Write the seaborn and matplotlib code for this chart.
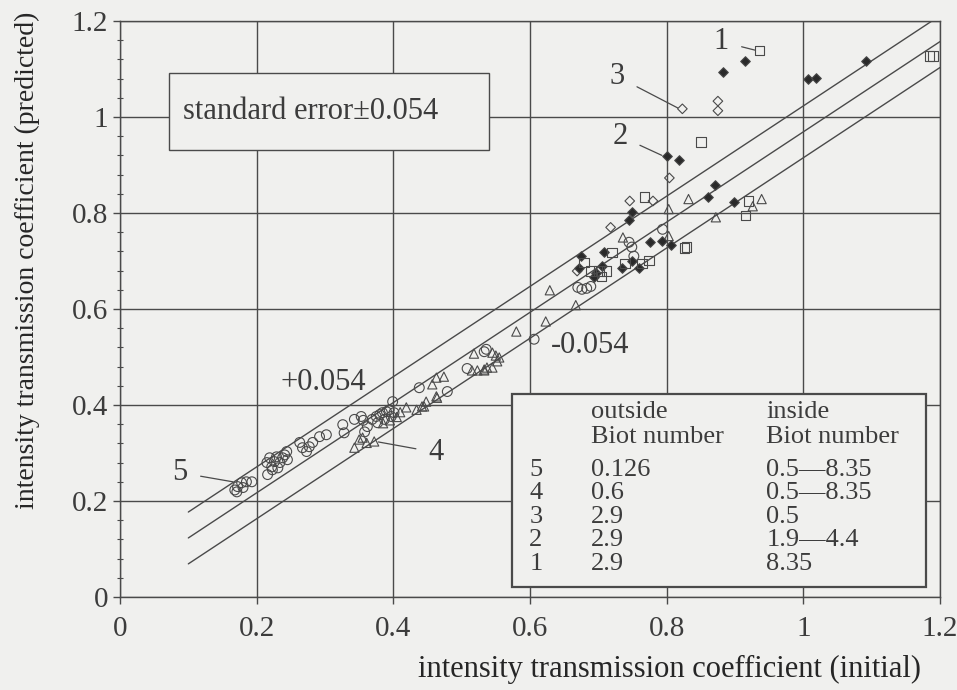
import numpy as np
import pandas as pd
import matplotlib.pyplot as plt
import seaborn as sns
from matplotlib.patches import Rectangle

# series 5: open circles (outside Bi 0.126)
x5 = [0.168, 0.172, 0.178, 0.180, 0.185, 0.193, 0.171,
      0.215, 0.219, 0.222, 0.226, 0.229, 0.234, 0.238, 0.244, 0.241, 0.216, 0.223, 0.231, 0.245,
      0.263, 0.267, 0.273, 0.277, 0.282, 0.292, 0.302,
      0.326, 0.328, 0.343, 0.353, 0.356,
      0.369, 0.375, 0.380, 0.384, 0.390, 0.394, 0.399, 0.401, 0.397, 0.387, 0.377, 0.362, 0.358,
      0.438, 0.479, 0.508, 0.533, 0.536, 0.606,
      0.670, 0.676, 0.683, 0.689, 0.745, 0.749, 0.752, 0.794]
y5 = [0.223, 0.230, 0.238, 0.228, 0.240, 0.240, 0.219,
      0.280, 0.290, 0.271, 0.282, 0.292, 0.280, 0.290, 0.303, 0.296, 0.255, 0.265, 0.269, 0.286,
      0.322, 0.311, 0.303, 0.313, 0.322, 0.334, 0.338,
      0.359, 0.342, 0.370, 0.376, 0.368,
      0.370, 0.376, 0.380, 0.384, 0.386, 0.390, 0.407, 0.384, 0.376, 0.370, 0.363, 0.355, 0.344,
      0.436, 0.428, 0.476, 0.511, 0.516, 0.537,
      0.645, 0.641, 0.643, 0.647, 0.739, 0.729, 0.710, 0.766]

# series 4: open triangles
x4 = [0.343, 0.350, 0.355, 0.372, 0.361, 0.385, 0.395, 0.405, 0.410,
      0.419, 0.434, 0.445, 0.448, 0.463, 0.463, 0.474, 0.457, 0.464, 0.442,
      0.518, 0.545, 0.550, 0.552, 0.515, 0.523, 0.533, 0.537, 0.555, 0.533, 0.545,
      0.580, 0.623, 0.667, 0.629, 0.736, 0.803, 0.803, 0.832, 0.872, 0.926, 0.939]
y4 = [0.311, 0.328, 0.332, 0.324, 0.321, 0.362, 0.368, 0.375, 0.385,
      0.395, 0.390, 0.397, 0.407, 0.418, 0.457, 0.459, 0.443, 0.415, 0.397,
      0.507, 0.509, 0.503, 0.491, 0.472, 0.472, 0.472, 0.478, 0.499, 0.474, 0.478,
      0.553, 0.574, 0.608, 0.639, 0.749, 0.752, 0.808, 0.829, 0.791, 0.814, 0.829]

# series 3: open diamonds
x3 = [0.823, 0.875, 0.875, 0.804, 0.746, 0.780, 0.718, 0.669]
y3 = [1.017, 1.033, 1.013, 0.873, 0.825, 0.825, 0.770, 0.679]

# series 2: filled diamonds
x2 = [0.800, 0.818, 0.882, 0.915, 1.007, 1.019, 1.092, 0.871, 0.860, 0.899, 0.750, 0.745,
      0.709, 0.674, 0.672, 0.696, 0.693, 0.705, 0.734, 0.759, 0.775, 0.793, 0.807, 0.749]
y2 = [0.918, 0.910, 1.094, 1.117, 1.079, 1.081, 1.117, 0.858, 0.833, 0.822, 0.801, 0.785,
      0.718, 0.710, 0.685, 0.676, 0.666, 0.689, 0.685, 0.685, 0.739, 0.741, 0.733, 0.699]

# series 1: open squares
x1 = [0.936, 1.190, 1.185, 0.850, 0.768, 0.920, 0.915, 0.829, 0.826, 0.720, 0.679, 0.689,
      0.701, 0.712, 0.739, 0.764, 0.774, 0.705]
y1 = [1.138, 1.127, 1.127, 0.948, 0.833, 0.825, 0.795, 0.729, 0.727, 0.718, 0.697, 0.679,
      0.679, 0.679, 0.695, 0.695, 0.701, 0.668]

# regression line and +/- standard error
fit_x = [0.1, 1.2]
fit_y = [0.123, 1.157]
std_err = 0.054

# table
series_ids = ['5', '4', '3', '2', '1']
bi_outside = ['0.126', '0.6', '2.9', '2.9', '2.9']
bi_inside = ['0.5\u20148.35', '0.5\u20148.35', '0.5', '1.9\u20144.4', '8.35']

# callout labels: (label, text pos, point pos)
callouts = [('1', (0.880, 1.157), (0.930, 1.139)),
            ('3', (0.728, 1.084), (0.816, 1.019)),
            ('2', (0.732, 0.960), (0.793, 0.920)),
            ('5', (0.088, 0.259), (0.165, 0.240)),
            ('4', (0.463, 0.301), (0.378, 0.323))]

ink = '#4a4a4a'
paper = '#f0f0ee'

sns.set_theme(style='white')
plt.rcParams['font.family'] = ['Liberation Serif', 'DejaVu Serif']
plt.rcParams['text.color'] = '#3c3c3c'

fig = plt.figure(figsize=(9.57, 6.9), dpi=100, facecolor=paper)
ax = fig.add_axes([0.1254, 0.1348, 0.8568, 0.8348])
ax.set_facecolor(paper)

# reference lines
line_df = pd.DataFrame({'x': fit_x, 'y': fit_y})
for off in (std_err, 0.0, -std_err):
    sns.lineplot(x=line_df['x'], y=line_df['y'] + off, ax=ax, color=ink, lw=1.0, zorder=2)

# points
series = [(x5, y5, 'o', 50, True), (x4, y4, '^', 44, True), (x3, y3, 'D', 24, True),
          (x2, y2, 'D', 24, False), (x1, y1, 's', 46, True)]
for xs, ys, mk, sz, hollow in series:
    d = pd.DataFrame({'x': xs, 'y': ys})
    sns.scatterplot(data=d, x='x', y='y', marker=mk, s=sz, ax=ax, color=ink,
                    edgecolor=ink, linewidth=0.8, zorder=4)
    coll = ax.collections[-1]
    coll.set_edgecolor(ink)
    coll.set_facecolor('none' if hollow else '#2a2a2a')

ax.set_xlim(0, 1.2)
ax.set_ylim(0, 1.2)
ticks = np.round(np.arange(0, 1.21, 0.2), 1)
tick_labels = ['0', '0.2', '0.4', '0.6', '0.8', '1', '1.2']
ax.set_xticks(ticks)
ax.set_xticklabels(tick_labels)
ax.set_yticks(ticks)
ax.set_yticklabels(tick_labels)
ax.set_yticks(np.arange(0, 1.2, 0.04), minor=True)
ax.tick_params(axis='both', which='major', labelsize=21, colors=ink, labelcolor='#3c3c3c',
               length=5, width=1, direction='out', bottom=True, left=True)
ax.tick_params(axis='x', pad=9)
ax.tick_params(axis='y', which='minor', length=5, width=0.8, direction='inout', left=True, color=ink)
ax.grid(True, which='major', color=ink, lw=1.0)
for sp in ax.spines.values():
    sp.set_color(ink)
    sp.set_linewidth(1.0)

ax.set_xlabel('intensity transmission coefficient (initial)', fontsize=22)
ax.xaxis.set_label_coords(0.67, -0.10)
ax.set_ylabel('intensity transmission coefficient (predicted)', fontsize=20)
ax.yaxis.set_label_coords(-0.098, 0.585)

# standard error box
ax.add_patch(Rectangle((0.0715, 0.931), 0.4685, 0.161, fc=paper, ec=ink, lw=1.0, zorder=3))
ax.text(0.092, 1.012, 'standard error\u00b10.054', fontsize=22, va='center', zorder=5)
ax.text(0.298, 0.447, '+0.054', fontsize=22, ha='center', va='center', zorder=5)
ax.text(0.688, 0.524, '-0.054', fontsize=22, ha='center', va='center', zorder=5)

for lab, tp, pp in callouts:
    ax.annotate(lab, xy=pp, xytext=tp, fontsize=22, ha='center', va='center', zorder=5,
                arrowprops=dict(arrowstyle='-', color=ink, lw=0.9, shrinkA=7, shrinkB=0))

# table box
ax.add_patch(Rectangle((0.574, 0.021), 0.606, 0.401, fc=paper, ec=ink, lw=1.6, zorder=3))
ax.text(0.689, 0.386, 'outside', fontsize=19, va='center', zorder=5)
ax.text(0.689, 0.334, 'Biot number', fontsize=19, va='center', zorder=5)
ax.text(0.946, 0.386, 'inside', fontsize=19, va='center', zorder=5)
ax.text(0.946, 0.334, 'Biot number', fontsize=19, va='center', zorder=5)
row_y = 0.265
for sid, bo, bi in zip(series_ids, bi_outside, bi_inside):
    ax.text(0.599, row_y, sid, fontsize=19, va='center', zorder=5)
    ax.text(0.689, row_y, bo, fontsize=19, va='center', zorder=5)
    ax.text(0.946, row_y, bi, fontsize=19, va='center', zorder=5)
    row_y -= 0.049

fig.savefig('out.png', dpi=100, facecolor=paper)
